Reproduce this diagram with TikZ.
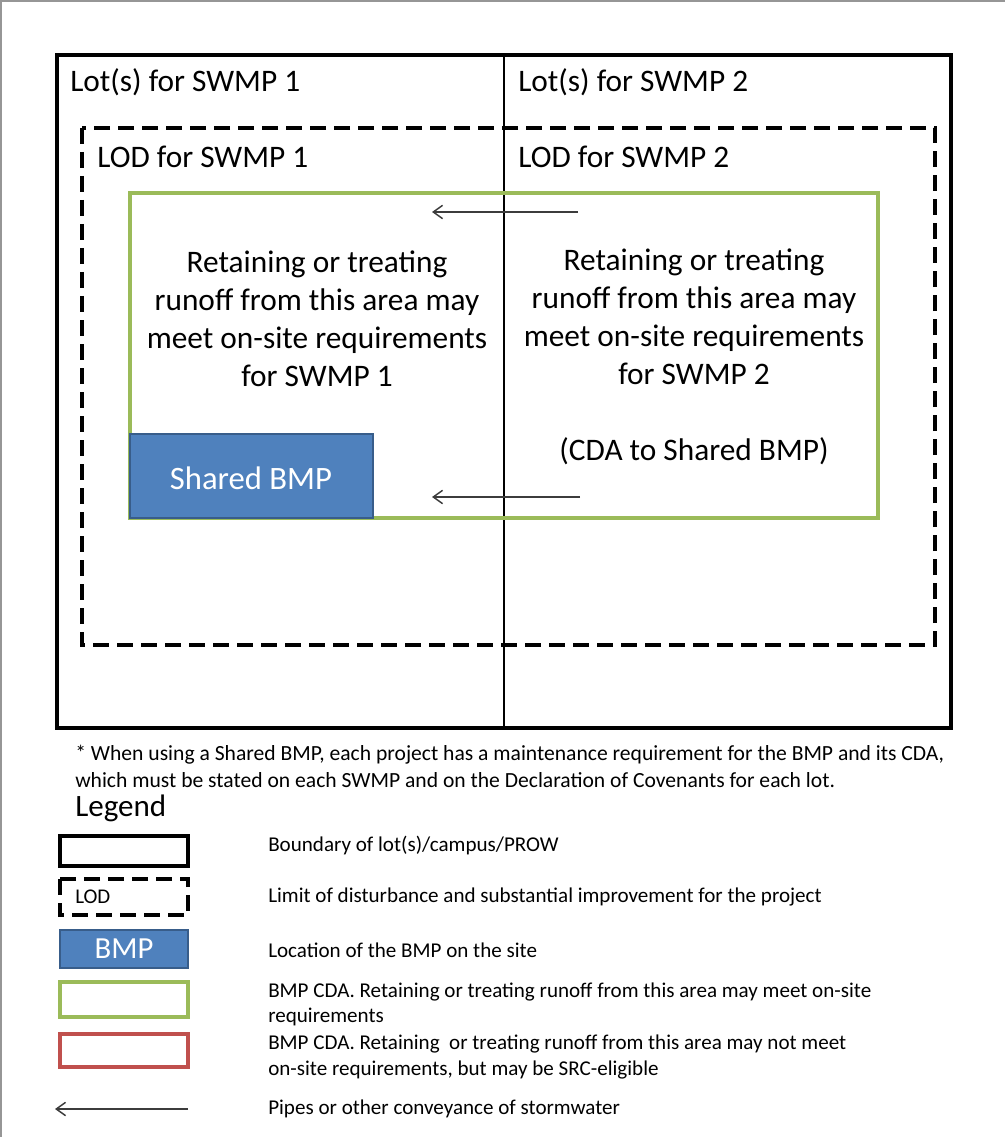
\documentclass[tikz,border=0pt]{standalone}
\usepackage{fontspec}
\setmainfont{Carlito}
\usetikzlibrary{arrows.meta,positioning}
\definecolor{cgreen}{RGB}{155,187,89}
\definecolor{cblue}{RGB}{79,129,189}
\definecolor{cbluedark}{RGB}{56,93,138}
\definecolor{cred}{RGB}{192,80,77}
\definecolor{cpipe}{RGB}{60,60,60}
\definecolor{cframe}{RGB}{150,150,150}

\begin{document}
\begin{tikzpicture}[x=0.75pt,y=-0.75pt,
big/.style={font=\fontsize{23.5}{28.4}\selectfont},
note/.style={font=\fontsize{16.2}{18.8}\selectfont},
key/.style={font=\fontsize{15.8}{18.8}\selectfont},
lbl/.style={anchor=west,inner sep=0pt},
lot/.style={draw,line width=2.6pt},
divider/.style={draw,line width=1.8pt},
lod/.style={draw,line width=2.6pt,dash pattern=on 12pt off 6pt},
cda/.style={draw=cgreen,line width=2.3pt},
cdared/.style={draw=cred,line width=2.3pt},
bmp/.style={draw=cbluedark,fill=cblue,line width=1.2pt},
pipe/.style={-{Straight Barb[length=7pt,width=10pt]},cpipe,line width=1.1pt}]
\useasboundingbox (0,0) rectangle (1005,1137);
\draw[cframe,line width=0.8pt] (1,1137) -- (1,1) -- (1005,1);

% site plan
\path[lot] (57,55) rectangle (951,728);
\draw[divider] (504,55) -- (504,728);
\path[lod] (82,128) rectangle (935,645);
\path[cda] (130,193) rectangle (878,518);
\path[bmp] (130,434) rectangle (373,518);

\node[lbl,big] (lot1) at (70,82) {Lot(s) for SWMP 1};
\node[lbl,big] (lot2) at (518,82) {Lot(s) for SWMP 2};
\node[lbl,big] (lod1) at (97,157) {LOD for SWMP 1};
\node[lbl,big] (lod2) at (518,157) {LOD for SWMP 2};
\node[big,align=center] (area1) at (317,319) {Retaining or treating\\runoff from this area may\\meet on-site requirements\\for SWMP 1};
\node[big,align=center] (area2) at (694,357) {Retaining or treating\\runoff from this area may\\meet on-site requirements\\for SWMP 2\\ \\(CDA to Shared BMP)};
\node[font=\fontsize{24.5}{28}\selectfont,text=white] (shared) at (251,478) {Shared BMP};

\coordinate (p1s) at (578,212);
\coordinate (p1e) at (432,212);
\coordinate (p2s) at (580,497);
\coordinate (p2e) at (432,497);
\draw[pipe] (p1s) -- (p1e);
\draw[pipe] (p2s) -- (p2e);

% footnote and legend
\node[lbl,note] (fn1) at (75,755) {* When using a Shared BMP, each project has a maintenance requirement for the BMP and its CDA,};
\node[lbl,note] (fn2) at (75,780) {which must be stated on each SWMP and on the Declaration of Covenants for each lot.};
\node[lbl,font=\fontsize{23.3}{26}\selectfont] (legend) at (75,808) {Legend};

\path[lot] (60,836) rectangle (188,866);
\path[lod] (60,879) rectangle (188,915);
\node[lbl,font=\fontsize{15.7}{17}\selectfont] (kod) at (75,897) {LOD};
\path[bmp] (60,930) rectangle (188,968);
\node[font=\fontsize{23}{26}\selectfont,text=white] (kbmp) at (124,949) {BMP};
\path[cda] (60,982) rectangle (188,1017);
\path[cdared] (60,1034) rectangle (188,1067);
\coordinate (kps) at (188,1109);
\coordinate (kpe) at (55,1109);
\draw[pipe] (kps) -- (kpe);

\node[lbl,key] (t1) at (268,845) {Boundary of lot(s)/campus/PROW};
\node[lbl,key] (t2) at (268,897) {Limit of disturbance and substantial improvement for the project};
\node[lbl,key] (t3) at (268,950) {Location of the BMP on the site};
\node[lbl,key,align=left] (t4) at (268,1004) {BMP CDA. Retaining or treating runoff from this area may meet on-site\\requirements};
\node[lbl,key,align=left] (t5) at (268,1057) {BMP CDA. Retaining\ \ or treating runoff from this area may not meet\\on-site requirements, but may be SRC-eligible};
\node[lbl,key] (t6) at (268,1109) {Pipes or other conveyance of stormwater};
\end{tikzpicture}
\end{document}
